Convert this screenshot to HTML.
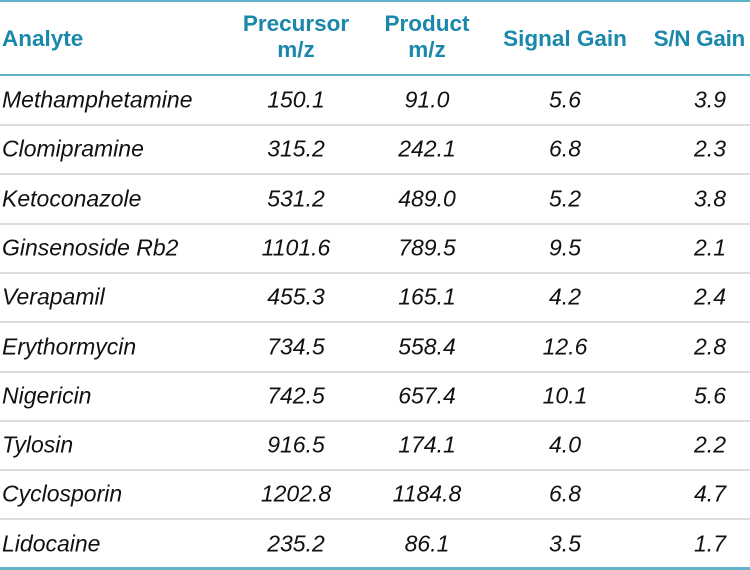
<!DOCTYPE html>
<html><head><style>
body{margin:0;width:750px;height:570px;background:#fff;font-family:"Liberation Sans",Arial,sans-serif;position:relative;overflow:hidden}
.l{position:absolute;left:0;width:750px}
.t{position:absolute;white-space:nowrap;transform:translate(-50%,-50%);font-size:23px;font-style:italic;color:#111}
.a{transform:translate(0,-50%)}
.h{font-weight:bold;font-style:normal;color:#1a88ab;text-align:center;line-height:26px;font-size:22.5px}
</style></head><body>
<div class="l" style="top:0;height:2px;background:#5fb5cc"></div>
<div class="l" style="top:74px;height:2px;background:#5fb5cc"></div>
<div class="l" style="top:567px;height:3px;background:#5fb5cc"></div>
<div class="t h a" style="left:2px;top:39px">Analyte</div>
<div class="t h" style="left:296px;top:37px">Precursor<br>m/z</div>
<div class="t h" style="left:427px;top:37px">Product<br>m/z</div>
<div class="t h" style="left:565px;top:39px">Signal Gain</div>
<div class="t h" style="left:auto;right:5px;top:39px;transform:translate(0,-50%);letter-spacing:-0.3px">S/N Gain</div>
<div id="rows"></div>
<script>
var d=[["Methamphetamine","150.1","91.0","5.6","3.9"],["Clomipramine","315.2","242.1","6.8","2.3"],["Ketoconazole","531.2","489.0","5.2","3.8"],["Ginsenoside Rb2","1101.6","789.5","9.5","2.1"],["Verapamil","455.3","165.1","4.2","2.4"],["Erythormycin","734.5","558.4","12.6","2.8"],["Nigericin","742.5","657.4","10.1","5.6"],["Tylosin","916.5","174.1","4.0","2.2"],["Cyclosporin","1202.8","1184.8","6.8","4.7"],["Lidocaine","235.2","86.1","3.5","1.7"]];
var h="",xs=[296,427,565,710];
d.forEach(function(r,i){var y=100+i*49.3;
h+='<div class="t a" style="left:2px;top:'+y+'px">'+r[0]+'</div>';
for(var j=1;j<5;j++)h+='<div class="t" style="left:'+xs[j-1]+'px;top:'+y+'px">'+r[j]+'</div>';
if(i<9)h+='<div class="l" style="top:'+(y+24)+'px;height:2px;background:#dcdcdc"></div>';});
document.getElementById("rows").innerHTML=h;
</script>
</body></html>
